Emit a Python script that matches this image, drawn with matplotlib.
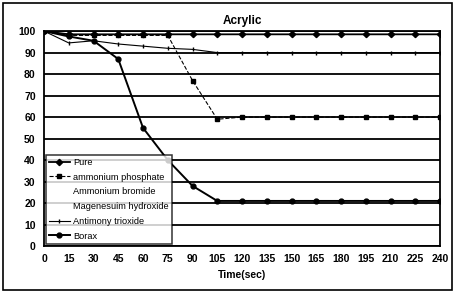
import matplotlib
matplotlib.use("Agg")
import matplotlib.pyplot as plt
from matplotlib.patches import Rectangle

plt.rcParams['font.family'] = ['Liberation Sans Narrow', 'Liberation Sans', 'DejaVu Sans']

time = [0, 15, 30, 45, 60, 75, 90, 105, 120, 135, 150, 165, 180, 195, 210, 225, 240]
pure = [100, 98.5, 98.5, 98.5, 98.5, 98.5, 98.5, 98.5, 98.5, 98.5, 98.5, 98.5, 98.5, 98.5, 98.5, 98.5, 98.5]
amm_phosphate = [100, 98, 98, 98, 98, 98, 77, 59, 60, 60, 60, 60, 60, 60, 60, 60, 60]
amm_bromide = [100, 100, 100, 100, 100, 100, 100, 100, 100, 100, 100, 100, 100, 100, 100, 100, 100]
mg_hydroxide = [100, 100, 100, 100, 100, 100, 100, 100, 100, 100, 100, 100, 100, 100, 100, 100, 100]
antimony = [100, 94.5, 95.5, 94, 93, 92, 91.5, 90, 90, 90, 90, 90, 90, 90, 90, 90, 90]
borax = [100, 97.5, 95.5, 87, 55, 40, 28, 21, 21, 21, 21, 21, 21, 21, 21, 21, 21]
xticks = list(range(0, 241, 15))
yticks = list(range(0, 101, 10))

fig = plt.figure(figsize=(4.57, 2.99), dpi=100)
fig.patches.append(Rectangle((0.007, 0.03), 0.983, 0.96, transform=fig.transFigure,
                             fill=False, edgecolor='black', linewidth=1.2))
ax = fig.add_axes([0.0963, 0.177, 0.8665, 0.719])

ax.plot(time, pure, '-', color='black', lw=1.3, marker='D', ms=3.2, label='Pure')
ax.plot(time, amm_phosphate, '--', color='black', lw=0.8, marker='s', ms=3.5, label='ammonium phosphate')
ax.plot(time, amm_bromide, linestyle='none', color='white', label='Ammonium bromide')
ax.plot(time, mg_hydroxide, linestyle='none', color='white', label='Magenesuim hydroxide')
ax.plot(time, antimony, '-', color='black', lw=0.8, marker='|', ms=3, label='Antimony trioxide')
ax.plot(time, borax, '-', color='black', lw=1.4, marker='o', ms=3.5, label='Borax')

ax.set_xlim(0, 240)
ax.set_ylim(0, 100)
ax.set_xticks(xticks)
ax.set_yticks(yticks)
ax.tick_params(length=0, labelsize=7.5, pad=6)
for lab in ax.get_xticklabels() + ax.get_yticklabels():
    lab.set_fontweight('bold')
ax.grid(axis='y', color='black', lw=1.3)
ax.set_axisbelow(True)
for s in ax.spines.values():
    s.set_linewidth(1.3)
ax.set_title('Acrylic', fontsize=8.5, fontweight='bold', pad=5)
ax.set_xlabel('Time(sec)', fontsize=7.5, fontweight='bold', labelpad=4)

leg = ax.legend(loc='lower left', bbox_to_anchor=(0.005, 0.01), fontsize=6.7,
                frameon=True, fancybox=False, edgecolor='black', borderpad=0.35,
                labelspacing=0.62, handlelength=2.2, handletextpad=0.4, borderaxespad=0)
leg.get_frame().set_linewidth(1.1)

fig.savefig('out.png', dpi=100)
